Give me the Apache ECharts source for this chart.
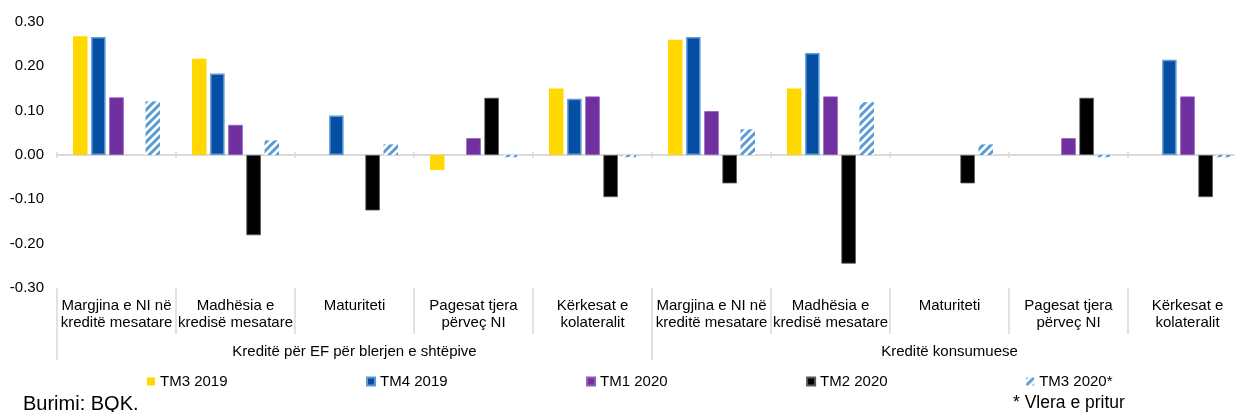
<!DOCTYPE html>
<html>
<head>
<meta charset="utf-8">
<script src="https://cdn.jsdelivr.net/npm/echarts@6/dist/echarts.min.js"></script>
<style>
html,body{margin:0;padding:0;background:#fff;overflow:hidden;width:1235px;height:412px;}
#chart{width:1260px;height:412px;}
</style>
</head>
<body>
<div id="chart"></div>
<script>
const categories = [
  "Margjina e NI në\nkreditë mesatare",
  "Madhësia e\nkredisë mesatare",
  "Maturiteti",
  "Pagesat tjera\npërveç NI",
  "Kërkesat e\nkolateralit",
  "Margjina e NI në\nkreditë mesatare",
  "Madhësia e\nkredisë mesatare",
  "Maturiteti",
  "Pagesat tjera\npërveç NI",
  "Kërkesat e\nkolateralit"
];
const groups = ["Kreditë për EF për blerjen e shtëpive", "Kreditë konsumuese"];
const seriesNames = ["TM3 2019", "TM4 2019", "TM1 2020", "TM2 2020", "TM3 2020*"];
const tm3_2019 = [0.268, 0.217, null, -0.034, 0.150, 0.260, 0.150, null, null, null];
const tm4_2019 = [0.266, 0.184, 0.089, null, 0.127, 0.266, 0.230, null, null, 0.215];
const tm1_2020 = [0.130, 0.068, null, 0.038, 0.132, 0.099, 0.132, null, 0.038, 0.132];
const tm2_2020 = [null, -0.181, -0.125, 0.129, -0.095, -0.064, -0.245, -0.064, 0.129, -0.095];
const tm3_2020 = [0.121, 0.033, 0.024, -0.005, -0.005, 0.058, 0.119, 0.024, -0.005, -0.005];
const yTicks = [-0.3, -0.2, -0.1, 0, 0.1, 0.2, 0.3];

// hatch pattern
const pc = document.createElement('canvas');
pc.width = 8; pc.height = 8;
const cx = pc.getContext('2d');
cx.fillStyle = '#ffffff'; cx.fillRect(0,0,8,8);
cx.strokeStyle = '#5b9bd5'; cx.lineWidth = 3;
cx.beginPath();
cx.moveTo(-2,10); cx.lineTo(10,-2);
cx.moveTo(-2,2); cx.lineTo(2,-2);
cx.moveTo(6,10); cx.lineTo(10,6);
cx.stroke();
const hatch = {image: pc, repeat: 'repeat'};

const FONT = '"Liberation Sans", Arial, sans-serif';
const chart = echarts.init(document.getElementById('chart'), null, {renderer: 'canvas'});
const catKeys = categories.map((c, i) => 'c' + i);

const barCommon = {type: 'bar', barWidth: 14.5, barGap: '25%', xAxisIndex: 0, yAxisIndex: 0};

chart.setOption({
  animation: false,
  textStyle: {fontFamily: FONT},
  grid: {left: 57, top: 22, width: 1190, height: 266, containLabel: false},
  legend: {
    data: seriesNames,
    left: 147, top: 374, padding: 0,
    itemWidth: 8, itemHeight: 8, itemGap: 138.5,
    icon: 'rect',
    textStyle: {fontSize: 15, color: '#000', fontFamily: FONT}
  },
  xAxis: [
    {type: 'category', data: catKeys, position: 'bottom',
     axisLine: {onZero: true, onZeroAxisIndex: 0, lineStyle: {color: '#d9d9d9', width: 2}},
     axisTick: {show: true, length: 3, lineStyle: {color: '#d9d9d9', width: 1.5}},
     axisLabel: {show: false}, splitLine: {show: false}},
    {type: 'category', data: catKeys, position: 'bottom',
     axisLine: {show: false, onZero: false},
     axisTick: {show: true, length: 46, lineStyle: {color: '#d9d9d9', width: 1.5}},
     axisLabel: {show: true, interval: 0, margin: 9, fontSize: 15, lineHeight: 17.5, color: '#000',
       fontFamily: FONT, formatter: (v, i) => categories[i]},
     splitLine: {show: false}},
    {type: 'category', data: groups, position: 'bottom',
     axisLine: {show: false, onZero: false},
     axisTick: {show: true, length: 72, lineStyle: {color: '#d9d9d9', width: 1.5}},
     axisLabel: {show: true, interval: 0, margin: 56, fontSize: 15, color: '#000', fontFamily: FONT},
     splitLine: {show: false}},
    {type: 'category', data: catKeys, position: 'bottom',
     axisLine: {show: false, onZero: true, onZeroAxisIndex: 0},
     axisTick: {show: true, inside: true, length: 3, lineStyle: {color: '#d9d9d9', width: 1.5}},
     axisLabel: {show: false}, splitLine: {show: false}}
  ],
  yAxis: [{
    type: 'value', min: -0.3, max: 0.3, interval: 0.1,
    axisLine: {show: false}, axisTick: {show: false}, splitLine: {show: false},
    axisLabel: {margin: 13, fontSize: 15, color: '#000', fontFamily: FONT,
      formatter: v => v.toFixed(2)}
  }],
  series: [
    Object.assign({}, barCommon, {name: seriesNames[0], data: tm3_2019, itemStyle: {color: '#ffd800'}}),
    Object.assign({}, barCommon, {name: seriesNames[1], data: tm4_2019, itemStyle: {color: '#064ea3', borderColor: '#5b9bd5', borderWidth: 1.5}}),
    Object.assign({}, barCommon, {name: seriesNames[2], data: tm1_2020, itemStyle: {color: '#7030a0', borderColor: '#8e5cbb', borderWidth: 0.8}}),
    Object.assign({}, barCommon, {name: seriesNames[3], data: tm2_2020, itemStyle: {color: '#000000', borderColor: '#595959', borderWidth: 0.8}}),
    Object.assign({}, barCommon, {name: seriesNames[4], data: tm3_2020, itemStyle: {color: hatch}})
  ],
  graphic: [
    {type: 'text', left: 23, top: 394, style: {text: 'Burimi: BQK.', font: '20px ' + FONT, fill: '#000'}},
    {type: 'text', left: 1013, top: 394, style: {text: '* Vlera e pritur', font: '17.5px ' + FONT, fill: '#000'}}
  ]
});
</script>
</body>
</html>
